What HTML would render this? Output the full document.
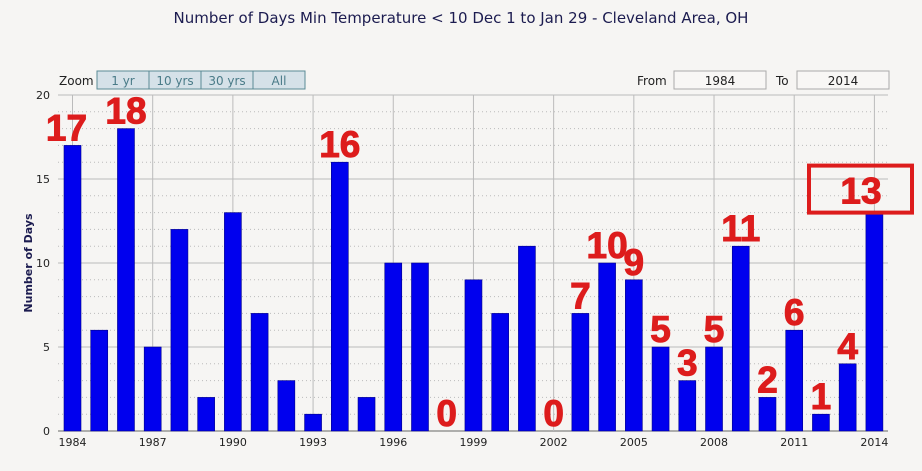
<!DOCTYPE html>
<html><head><meta charset="utf-8"><style>
body{margin:0;background:#f6f5f3;font-family:"DejaVu Sans","Liberation Sans",sans-serif;}
svg{display:block}
</style></head><body>
<svg id="c" width="922" height="471" viewBox="0 0 922 471">
<rect width="922" height="471" fill="#f6f5f3"/>
<text x="461" y="23" text-anchor="middle" font-size="15" fill="#1c1c50">Number of Days Min Temperature &lt; 10 Dec 1 to Jan 29 - Cleveland Area, OH</text>
<g>
<text x="59" y="85" font-size="12" fill="#222">Zoom</text>
<rect x="97" y="71" width="208" height="18" fill="#d5e1e8" stroke="#5a8a96"/>
<line x1="149" y1="71" x2="149" y2="89" stroke="#5a8a96"/><line x1="201" y1="71" x2="201" y2="89" stroke="#5a8a96"/><line x1="253" y1="71" x2="253" y2="89" stroke="#5a8a96"/>
<text x="123" y="85" font-size="12" fill="#4a7b88" text-anchor="middle">1 yr</text>
<text x="175" y="85" font-size="12" fill="#4a7b88" text-anchor="middle">10 yrs</text>
<text x="227" y="85" font-size="12" fill="#4a7b88" text-anchor="middle">30 yrs</text>
<text x="279" y="85" font-size="12" fill="#4a7b88" text-anchor="middle">All</text>
</g>
<g>
<text x="637" y="85" font-size="12" fill="#222">From</text>
<rect x="674" y="71" width="92" height="18" fill="#f8f7f5" stroke="#aaa"/>
<text x="720" y="85" font-size="12" fill="#222" text-anchor="middle">1984</text>
<text x="776" y="85" font-size="12" fill="#222">To</text>
<rect x="797" y="71" width="92" height="18" fill="#f8f7f5" stroke="#aaa"/>
<text x="843" y="85" font-size="12" fill="#222" text-anchor="middle">2014</text>
</g>
<text transform="translate(32,263) rotate(-90)" text-anchor="middle" font-size="11" font-weight="bold" fill="#1c1c50">Number of Days</text>
<g id="grid"></g><g id="bars"></g><g id="labels"></g>
</svg>
<script>
const years=[1984,1985,1986,1987,1988,1989,1990,1991,1992,1993,1994,1995,1996,1997,1998,1999,2000,2001,2002,2003,2004,2005,2006,2007,2008,2009,2010,2011,2012,2013,2014];
const days=[17,6,18,5,12,2,13,7,3,1,16,2,10,10,0,9,7,11,0,7,10,9,5,3,5,11,2,6,1,4,13];
const labeledYears=[1984,1986,1994,1998,2002,2003,2004,2005,2006,2007,2008,2009,2010,2011,2012,2013,2014];
const yTicks=[0,5,10,15,20];
const xTickYears=[1984,1987,1990,1993,1996,1999,2002,2005,2008,2011,2014];
const NS="http://www.w3.org/2000/svg";
const L=58,R=888,T=95,B=431;
const x=yr=>72.5+(yr-1984)*26.73;
const y=v=>B-v*(B-T)/20;
function mk(tag,at,parent,txt){const e=document.createElementNS(NS,tag);for(const k in at)e.setAttribute(k,at[k]);if(txt!==undefined)e.textContent=txt;parent.appendChild(e);return e;}
const g=document.getElementById('grid'),gb=document.getElementById('bars'),gl=document.getElementById('labels');
for(let v=1;v<20;v++){if(v%5)mk('line',{x1:L,x2:R,y1:y(v),y2:y(v),stroke:'#bbb','stroke-dasharray':'1,3'},g);}
yTicks.forEach(v=>{
 const ln=mk('line',{x1:L,x2:R,y1:y(v),y2:y(v),stroke:v?'#bbb':'#666'},g);
 
 
 const t=mk('text',{x:L-8,y:y(v)+4,'text-anchor':'end','font-size':11,fill:'#222'},g,v);
 
 
});
xTickYears.forEach(yr=>{
 mk('line',{x1:x(yr),x2:x(yr),y1:T,y2:B,stroke:'#bbb'},g);
 const t=mk('text',{x:x(yr),y:B+15,'text-anchor':'middle','font-size':11,fill:'#222'},g,yr);
 
 
});
years.forEach((yr,i)=>{
 const v=days[i];
 const r=mk('rect',{x:x(yr)-8.5,y:y(v),width:17,height:B-y(v),fill:'#0000ee',stroke:'#00008a','stroke-width':0.6},gb);
 
 
 if(labeledYears.indexOf(yr)<0)return;
 let tx=x(yr)-(yr===1984?6:0), ty=y(v)-5;
 if(yr===2014){
  const bx=mk('rect',{x:809,y:y(v)-47,width:103,height:47,fill:'none',stroke:'#dd1c1c','stroke-width':4},gl);
  
  
  tx=861; ty=y(v)-9;
 }
 const t=mk('text',{x:tx,y:ty,'text-anchor':'middle','font-size':37,'font-weight':'bold','font-family':'Liberation Sans, sans-serif',fill:'#dd1c1c',stroke:'#dd1c1c','stroke-width':1},gl,v);
 
 
});
</script>
</body></html>
